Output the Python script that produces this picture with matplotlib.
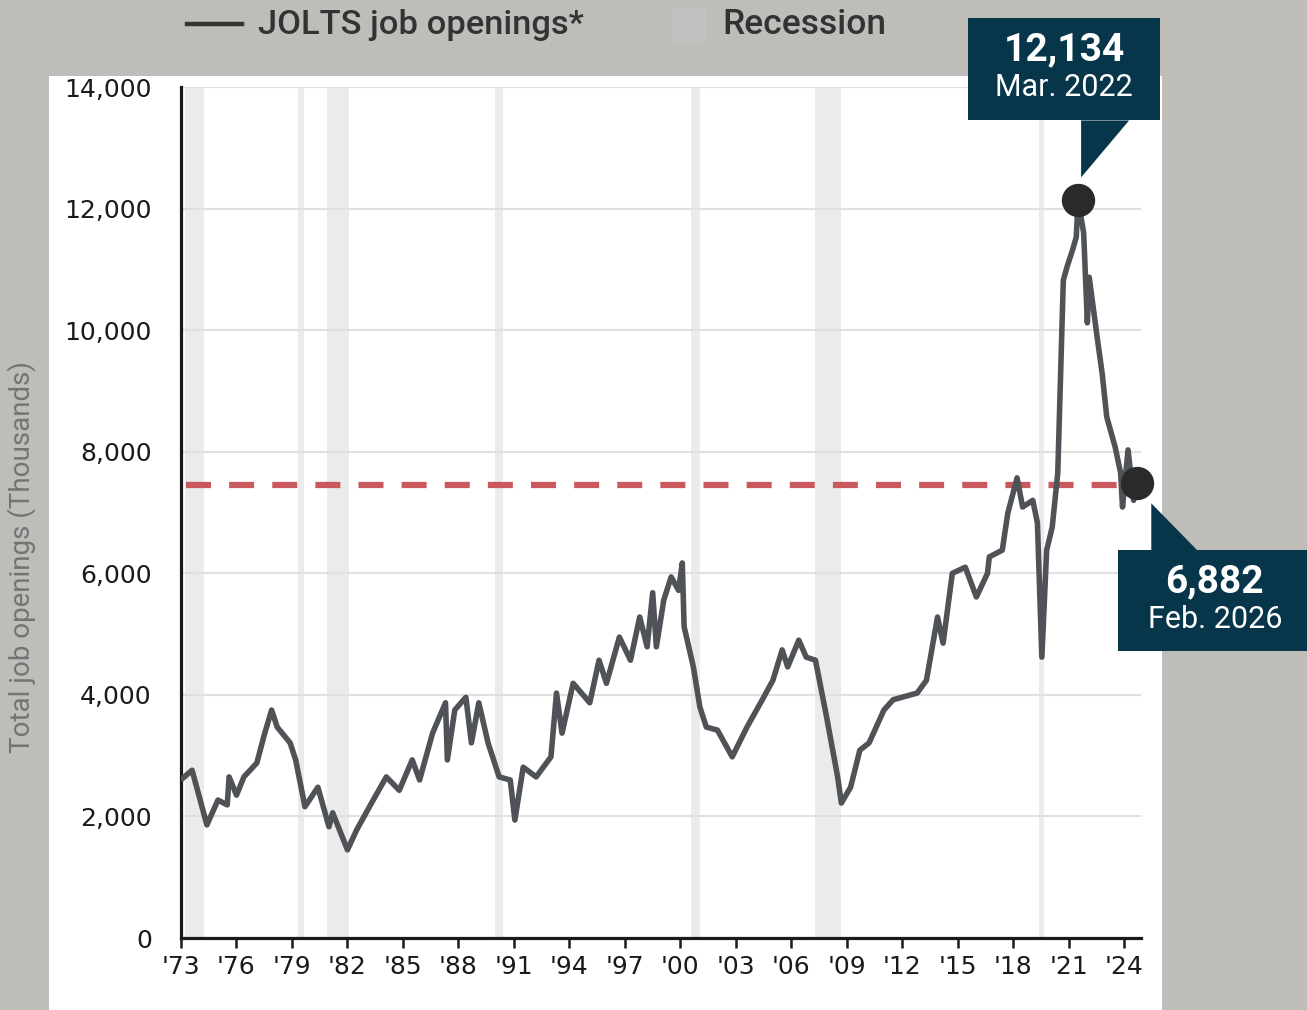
import matplotlib
matplotlib.use("Agg")
import matplotlib.pyplot as plt
from matplotlib.patches import Rectangle, Polygon
from matplotlib.lines import Line2D
from matplotlib.ticker import FuncFormatter

# JOLTS job openings, thousands
years = [1973.1, 1973.6, 1974.4, 1975.0, 1975.5, 1975.6, 1976.0, 1976.4, 1977.1, 1977.5,
         1977.9, 1978.2, 1978.9, 1979.2, 1979.7, 1980.4, 1981.0, 1981.2, 1982.0, 1982.5,
         1983.3, 1984.1, 1984.8, 1985.5, 1985.9, 1986.6, 1987.3, 1987.4, 1987.8, 1988.4,
         1988.7, 1989.1, 1989.6, 1990.2, 1990.8, 1991.05, 1991.5, 1992.2, 1993.0, 1993.3,
         1993.6, 1994.2, 1995.1, 1995.6, 1996.0, 1996.7, 1997.3, 1997.8, 1998.2, 1998.5,
         1998.7, 1999.1, 1999.5, 1999.9, 2000.1, 2000.2, 2000.7, 2001.05, 2001.4, 2002.0,
         2002.8, 2003.6, 2004.5, 2005.0, 2005.5, 2005.8, 2006.4, 2006.8, 2007.3, 2007.9,
         2008.5, 2008.7, 2009.2, 2009.7, 2010.2, 2011.0, 2011.5, 2012.8, 2013.3, 2013.9,
         2014.2, 2014.7, 2015.4, 2016.0, 2016.6, 2016.7, 2017.4, 2017.7, 2018.2, 2018.5,
         2019.05, 2019.3, 2019.54, 2019.8, 2020.1, 2020.4, 2020.7, 2020.9, 2021.2, 2021.4,
         2021.5, 2021.8, 2022.0, 2022.1, 2022.5, 2022.8, 2023.05, 2023.5, 2023.8, 2023.9,
         2024.2, 2024.5, 2024.7]
openings = [2630, 2760, 1860, 2270, 2190, 2650, 2350, 2650, 2880, 3340,
            3750, 3470, 3210, 2930, 2160, 2480, 1830, 2060, 1450, 1780,
            2220, 2650, 2430, 2930, 2600, 3370, 3870, 2930, 3750, 3960,
            3210, 3870, 3210, 2650, 2600, 1940, 2810, 2650, 2980, 4030,
            3370, 4190, 3870, 4570, 4190, 4950, 4570, 5280, 4790, 5680,
            4790, 5560, 5940, 5720, 6170, 5120, 4460, 3800, 3470, 3420,
            2980, 3470, 3960, 4240, 4740, 4460, 4900, 4620, 4570, 3640,
            2650, 2220, 2480, 3090, 3210, 3750, 3920, 4030, 4240, 5280,
            4850, 6000, 6100, 5610, 6000, 6270, 6380, 6990, 7570, 7090,
            7200, 6830, 4620, 6380, 6760, 7650, 10820, 11040, 11320, 11530,
            12134, 11600, 10120, 10870, 9950, 9290, 8570, 8080, 7650, 7090,
            8030, 7200, 7480]

recession_start = [1973.2, 1979.35, 1980.9, 1989.95, 2000.55, 2007.3, 2019.4]
recession_end = [1974.25, 1979.65, 1982.1, 1990.4, 2001.05, 2008.7, 2019.65]

reference_level = 7450
peak_label = ("12,134", "Mar. 2022")
last_label = ("6,882", "Feb. 2026")

tick_years = list(range(1973, 2025, 3))
y_ticks = list(range(0, 14001, 2000))

BG = "#bfbdba"
NAVY = "#07364a"
LINE = "#4f5357"

W, H = 1307, 1010
fig = plt.figure(figsize=(W / 100, H / 100), dpi=100, facecolor=BG)

# white panel behind the chart
fig.patches.append(Rectangle((49 / W, 0), (1162 - 49) / W, (1010 - 76) / H,
                             transform=fig.transFigure, facecolor="white",
                             edgecolor="none", zorder=-1))

ax = fig.add_axes([181 / W, 72 / H, 960 / W, 851 / H])
ax.set_facecolor("none")
ax.set_zorder(1)

for s, e in zip(recession_start, recession_end):
    ax.axvspan(s, e, color="#ebebeb", lw=0, zorder=0)

ax.set_yticks(y_ticks)
ax.grid(axis="y", color="#e0e0e0", lw=1.5, zorder=1)
ax.set_axisbelow(True)

ax.axhline(reference_level, xmin=0.005, color="#c9595e", lw=4.5, dashes=(4, 2.9),
           dash_capstyle="butt", zorder=2)

ax.plot(years, openings, color=LINE, lw=4.0, solid_joinstyle="round", zorder=3)

i_peak = openings.index(max(openings))
ax.plot([years[i_peak], years[-1]], [openings[i_peak], openings[-1]], "o",
        color="#2a2a2a", ms=23, zorder=4, clip_on=False)

ax.set_xlim(1973, 2024.9)
ax.set_ylim(0, 14000)
ax.set_xticks(tick_years)
ax.set_xticklabels(["'" + str(y)[2:] for y in tick_years])
ax.yaxis.set_major_formatter(FuncFormatter(lambda v, p: f"{int(v):,}"))

for side in ["top", "right"]:
    ax.spines[side].set_visible(False)
for side in ["left", "bottom"]:
    ax.spines[side].set_linewidth(2.3)
    ax.spines[side].set_color("#1a1a1a")

ax.tick_params(axis="y", length=0, pad=21, labelsize=18, labelcolor="#1a1a1a")
ax.tick_params(axis="x", length=7, width=1.8, pad=5, labelsize=18,
               labelcolor="#1a1a1a", color="#1a1a1a")

fig.text(22 / W, 1 - 557 / H, "Total job openings (Thousands)", rotation=90,
         ha="center", va="center", fontsize=20, color="#747474",
         family=["Roboto", "DejaVu Sans"])

# legend on top
fig.add_artist(Line2D([187 / W, 242 / W], [1 - 24 / H, 1 - 24 / H], color="#333333",
                      lw=3.2, transform=fig.transFigure))
fig.text(258 / W, 1 - 25 / H, "JOLTS job openings*", ha="left", va="center",
         fontsize=24.8, color="#333333", family=["Roboto", "DejaVu Sans"],
         fontweight="medium")
fig.patches.append(Rectangle((672 / W, 1 - 42 / H), 34 / W, 35 / H,
                             transform=fig.transFigure, facecolor="#c3c1bf",
                             edgecolor="none"))
fig.text(722 / W, 1 - 25 / H, "Recession", ha="left", va="center",
         fontsize=25.5, color="#333333", family=["Roboto", "DejaVu Sans"],
         fontweight="medium")

# callouts anchored to the marked points (pixel offsets, y pointing down)
def callout(x, y, box, tri, line1, line2, t1, t2):
    px, py = ax.transData.transform((x, y))
    def P(dx, dy):
        return (px + dx, py - dy)
    x0, x1, y0, y1 = box
    fig.add_artist(Polygon([P(x0, y0), P(x1, y0), P(x1, y1), P(x0, y1)], closed=True,
                           facecolor=NAVY, edgecolor="none", transform=None, zorder=5))
    fig.add_artist(Polygon([P(*p) for p in tri], closed=True, facecolor=NAVY,
                           edgecolor="none", transform=None, zorder=5))
    fig.text(*P(*t1), line1, transform=None, ha="center", va="center", color="white",
             fontsize=28, fontweight="bold", family=["Roboto", "DejaVu Sans"], zorder=6)
    fig.text(*P(*t2), line2, transform=None, ha="center", va="center", color="white",
             fontsize=22, family=["Roboto", "DejaVu Sans"], zorder=6)

callout(years[i_peak], openings[i_peak], (-110, 82, -182, -80),
        [(3, -80), (3, -23), (51, -80)], *peak_label, (-14, -151), (-14, -113))
callout(years[-1], openings[-1], (-19, 175, 67, 168),
        [(14, 67), (14, 20), (60, 67)], *last_label, (77, 99), (78, 136))

fig.savefig("out.png", dpi=100, facecolor=BG)
